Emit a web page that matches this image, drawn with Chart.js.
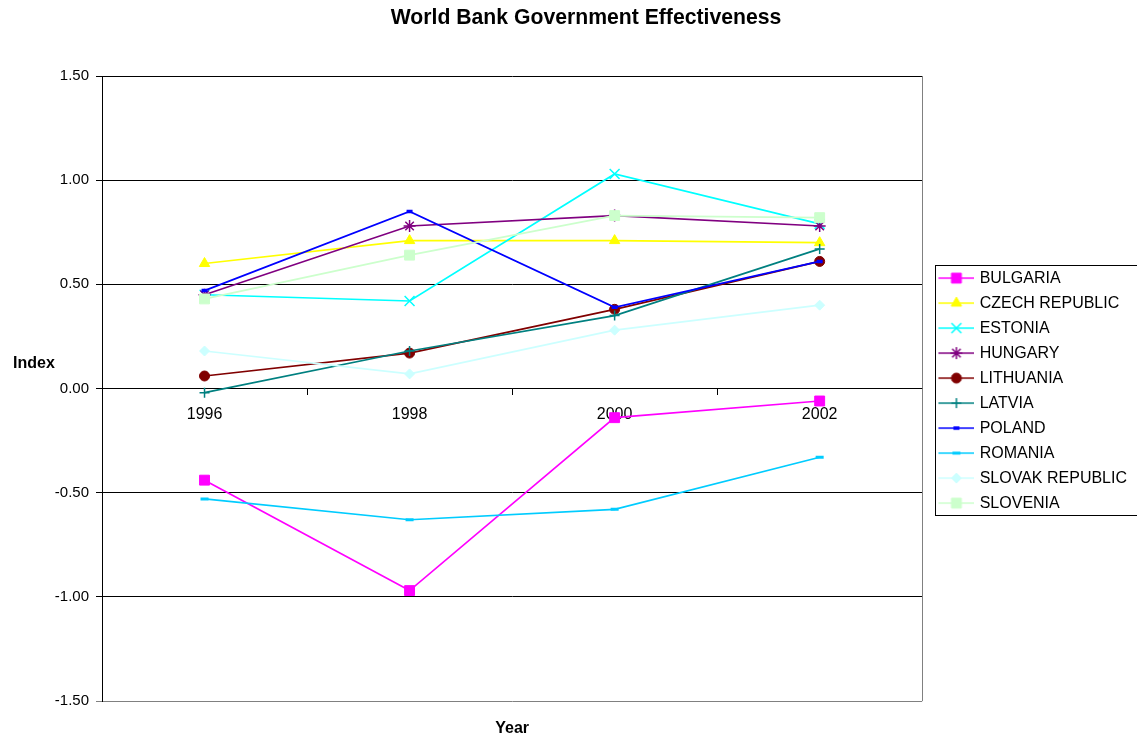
<!DOCTYPE html>
<html>
<head>
<meta charset="utf-8">
<script src="https://cdn.jsdelivr.net/npm/chart.js"></script>
<style>
  html, body { margin: 0; padding: 0; background: #fff; }
  #wrap { width: 1137px; height: 740px; }
</style>
</head>
<body>
<div id="wrap"><canvas id="chartEfectividad"></canvas></div>
<script>
  // datos
  const years = ['1996', '1998', '2000', '2002'];
  const yTicks = [-1.5, -1.0, -0.5, 0, 0.5, 1.0, 1.5];
  const countries = ['BULGARIA', 'CZECH REPUBLIC', 'ESTONIA', 'HUNGARY', 'LITHUANIA',
                     'LATVIA', 'POLAND', 'ROMANIA', 'SLOVAK REPUBLIC', 'SLOVENIA'];
  const bulgaria  = [-0.44, -0.97, -0.14, -0.06];
  const czech     = [0.60, 0.71, 0.71, 0.70];
  const estonia   = [0.45, 0.42, 1.03, 0.79];
  const hungary   = [0.45, 0.78, 0.83, 0.78];
  const lithuania = [0.06, 0.17, 0.38, 0.61];
  const latvia    = [-0.02, 0.18, 0.35, 0.67];
  const poland    = [0.47, 0.85, 0.39, 0.61];
  const romania   = [-0.53, -0.63, -0.58, -0.33];
  const slovak    = [0.18, 0.07, 0.28, 0.40];
  const slovenia  = [0.43, 0.64, 0.83, 0.82];
  const series = [bulgaria, czech, estonia, hungary, lithuania, latvia, poland, romania, slovak, slovenia];

  // estilos
  const colors  = ['#FF00FF', '#FFFF00', '#00FFFF', '#800080', '#800000',
                   '#008080', '#0000FF', '#00CCFF', '#CCFFFF', '#CCFFCC'];
  const markers = ['rect', 'triangle', 'crossRot', 'star', 'circle',
                   'cross', 'line', 'line', 'rectRot', 'rect'];
  const radii   = [7, 6, 7, 6, 5, 5, 3, 4, 5, 7];
  const markerWidths = [1, 1, 1.5, 1.5, 1, 1.5, 3.5, 3, 1, 1];

  const fontFam = 'Arial, "Liberation Sans", sans-serif';

  // muestra de leyenda: linea con marcador
  function legendSample(i) {
    const c = document.createElement('canvas');
    c.width = 46; c.height = 16;
    const g = c.getContext('2d');
    g.strokeStyle = colors[i];
    g.lineWidth = 1.7;
    g.beginPath(); g.moveTo(10, 8); g.lineTo(46, 8); g.stroke();
    g.fillStyle = colors[i];
    g.lineWidth = markerWidths[i];
    Chart.helpers.drawPoint(g, {pointStyle: markers[i], radius: radii[i], borderWidth: markerWidths[i], rotation: 0}, 28, 8);
    return c;
  }

  const datasets = countries.map((name, i) => ({
    label: name,
    data: series[i],
    borderColor: colors[i],
    backgroundColor: colors[i],
    borderWidth: 1.7,
    pointStyle: markers[i],
    pointRadius: radii[i],
    pointBorderWidth: markerWidths[i],
    pointBackgroundColor: colors[i],
    pointBorderColor: colors[i],
    tension: 0,
    order: countries.length - i
  }));

  const decor = {
    id: 'decor',
    afterDraw(chart) {
      const c = chart.ctx;
      const a = chart.chartArea;
      c.save();
      // borde derecho
      c.strokeStyle = '#808080';
      c.lineWidth = 1;
      c.beginPath();
      c.moveTo(Math.round(a.right) + 0.5, a.top);
      c.lineTo(Math.round(a.right) + 0.5, a.bottom);
      c.stroke();
      // textos
      c.fillStyle = '#000';
      c.textBaseline = 'middle';
      c.textAlign = 'center';
      c.font = 'bold 21.2px ' + fontFam;
      c.fillText('World Bank Government Effectiveness', 586, 18);
      c.font = 'bold 16px ' + fontFam;
      c.fillText('Index', 34, 364);
      c.fillText('Year', (a.left + a.right) / 2, 729);
      // marco de la leyenda
      const hb = chart.legend.legendHitBoxes;
      if (hb && hb.length) {
        const first = hb[0], last = hb[hb.length - 1];
        const x0 = Math.round(first.left + 4) + 0.5;
        const y0 = Math.round(first.top - 5) + 0.5;
        const y1 = Math.round(last.top + last.height + 4) + 0.5;
        c.strokeStyle = '#000';
        c.lineWidth = 1;
        c.strokeRect(x0, y0, chart.width + 10 - x0, y1 - y0);
      }
      c.restore();
    }
  };

  const ctx = document.getElementById('chartEfectividad');
  const samples = countries.map((n, i) => legendSample(i));

  new Chart(ctx, {
    type: 'line',
    data: {
      labels: years,
      datasets: datasets
    },
    options: {
      responsive: true,
      maintainAspectRatio: false,
      animation: false,
      devicePixelRatio: 1,
      layout: { padding: { top: 76, bottom: 39, left: 0, right: 0 } },
      plugins: {
        title: { display: false },
        tooltip: { enabled: false },
        legend: {
          position: 'right',
          align: 'center',
          title: { display: true, text: ' ', color: '#000', font: { size: 1 }, padding: { top: 0, bottom: 3 } },
          labels: {
            usePointStyle: true,
            pointStyleWidth: 40.5,
            padding: 9,
            color: '#000',
            font: { size: 16, family: fontFam },
            generateLabels: chart => chart.data.datasets.map((ds, i) => ({
              text: ds.label,
              fontColor: '#000',
              pointStyle: samples[i],
              fillStyle: ds.backgroundColor,
              strokeStyle: ds.borderColor,
              lineWidth: 0,
              hidden: false,
              datasetIndex: i
            }))
          }
        }
      },
      scales: {
        x: {
          type: 'category',
          offset: true,
          position: { y: 0 },
          grid: { display: true, drawOnChartArea: false, offset: true, tickLength: 6, color: '#000' },
          border: { color: '#000' },
          ticks: { padding: 10, color: '#000', maxRotation: 0, font: { size: 16, family: fontFam } }
        },
        y: {
          min: -1.5,
          max: 1.5,
          afterFit: s => { s.width = 102; },
          afterBuildTicks: s => { s.ticks = yTicks.map(v => ({ value: v })); },
          grid: {
            color: c => (c.tick && c.tick.value === -1.5) ? '#808080' : '#000',
            tickLength: 6
          },
          border: { color: '#000' },
          ticks: {
            padding: 7,
            color: '#000',
            font: { size: 15, family: fontFam },
            callback: v => Number(v).toFixed(2)
          }
        }
      }
    },
    plugins: [decor]
  });
</script>
</body>
</html>
